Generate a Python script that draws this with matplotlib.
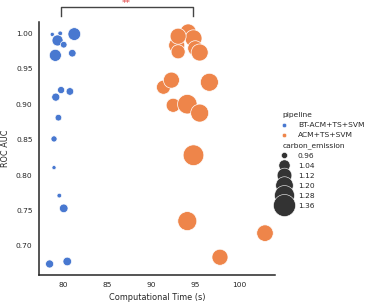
import matplotlib
matplotlib.use("Agg")
import matplotlib.pyplot as plt
from matplotlib.lines import Line2D
import numpy as np

# ---------------- data ----------------
pipelines = ["BT-ACM+TS+SVM", "ACM+TS+SVM"]
colors = ["#4878d0", "#ee854a"]

bt_time = [78.8, 79.7, 81.3, 79.4, 80.1, 79.15, 81.07, 79.8, 80.8, 79.2, 79.5, 79.0, 79.0, 79.6, 80.1, 78.5, 80.5]
bt_auc = [0.9986, 1.000, 0.999, 0.990, 0.984, 0.969, 0.972, 0.920, 0.918, 0.910, 0.881, 0.851, 0.8105, 0.771, 0.753, 0.6745, 0.678]
bt_carbon = [0.942, 0.946, 1.072, 1.036, 0.966, 1.057, 0.978, 0.972, 0.978, 0.985, 0.966, 0.960, 0.942, 0.946, 0.993, 0.985, 0.993]

acm_time = [94.2, 94.8, 92.9, 93.06, 95.0, 95.5, 93.06, 91.4, 92.3, 96.6, 92.5, 94.1, 95.5, 94.8, 94.1, 97.8, 102.9]
acm_auc = [1.002, 0.993, 0.983, 0.974, 0.979, 0.973, 0.996, 0.924, 0.934, 0.931, 0.8985, 0.900, 0.8875, 0.828, 0.735, 0.684, 0.718]
acm_carbon = [1.157, 1.186, 1.157, 1.103, 1.129, 1.186, 1.157, 1.103, 1.157, 1.217, 1.103, 1.268, 1.217, 1.31, 1.25, 1.157, 1.171]

size_legend_values = [0.96, 1.04, 1.12, 1.20, 1.28, 1.36]
x_ticks = [80, 85, 90, 95, 100]
y_ticks = [0.70, 0.75, 0.80, 0.85, 0.90, 0.95, 1.00]
significance = "**"

# ---------------- style ----------------
TXT = "#262626"
plt.rcParams["font.family"] = ["DejaVu Sans"]
plt.rcParams["text.color"] = TXT
plt.rcParams["axes.labelcolor"] = TXT
plt.rcParams["xtick.color"] = TXT
plt.rcParams["ytick.color"] = TXT

C_LO, C_HI = 0.928, 1.40
S_LO, S_HI = 1.0, 580.0 * (C_HI - C_LO)


def size_of(c):
    c = np.asarray(c, dtype=float)
    return S_LO + (c - C_LO) / (C_HI - C_LO) * (S_HI - S_LO)


fig = plt.figure(figsize=(3.74, 3.05), dpi=100)
ax = fig.add_axes([0.1043, 0.0974, 0.6302, 0.8315])

ax.scatter(bt_time, bt_auc, s=size_of(bt_carbon), c=colors[0],
           edgecolors="white", linewidths=0.5, zorder=3)
ax.scatter(acm_time, acm_auc, s=size_of(acm_carbon), c=colors[1],
           edgecolors="white", linewidths=0.5, zorder=3)

ax.set_xlim(77.3, 104.0)
ax.set_ylim(0.6585, 1.0165)
ax.set_xticks(x_ticks)
ax.set_yticks(y_ticks)
ax.set_yticklabels([f"{v:.2f}" for v in y_ticks])
ax.tick_params(length=0, labelsize=5.4, pad=4.6)
for side in ["top", "right"]:
    ax.spines[side].set_visible(False)
for side in ["left", "bottom"]:
    ax.spines[side].set_color(TXT)
    ax.spines[side].set_linewidth(1.1)

ax.set_xlabel("Computational Time (s)", fontsize=5.9, labelpad=3.5)
ax.set_ylabel("ROC AUC", fontsize=5.9, labelpad=4)

# significance bracket between group means
m1 = float(np.mean(bt_time))
m2 = float(np.mean(acm_time))
trans = ax.get_xaxis_transform()
y_line, y_tick = 1.059, 1.024
ax.plot([m1, m1, m2, m2], [y_tick, y_line, y_line, y_tick], color="#444444",
        lw=1.0, transform=trans, clip_on=False)
ax.text((m1 + m2) / 2, y_line - 0.006, significance, color="#e04545",
        fontsize=6.5, ha="center", va="bottom", transform=trans, clip_on=False)

# ---------------- legend ----------------
handles, labels = [], []
blank = Line2D([], [], linestyle="none", marker="", visible=False)
handles.append(blank); labels.append("pipeline")
for p, col in zip(pipelines, colors):
    handles.append(Line2D([], [], linestyle="none", marker="o", markersize=3.2,
                          markerfacecolor=col, markeredgecolor="white",
                          markeredgewidth=0.4))
    labels.append(p)
handles.append(Line2D([], [], linestyle="none", marker="", visible=False))
labels.append("carbon_emission")
for v in size_legend_values:
    handles.append(Line2D([], [], linestyle="none", marker="o",
                          markersize=float(np.sqrt(size_of(v))),
                          markerfacecolor="#333333", markeredgecolor="white",
                          markeredgewidth=0.4))
    labels.append(f"{v:.2f}")

leg = fig.legend(handles, labels, loc="center left", bbox_to_anchor=(0.722, 0.474),
                 frameon=False, fontsize=5.4, labelspacing=0.5, handletextpad=0.8,
                 borderaxespad=0.5)
import matplotlib.offsetbox as ob
hpackers = leg.findobj(ob.VPacker)[0].get_children()
for hpack in hpackers:
    draw_area, text_area = hpack.get_children()
    arts = draw_area.get_children()
    if not all(a.get_visible() for a in arts):
        draw_area.set_width(0)

fig.savefig("out.png", dpi=100)
